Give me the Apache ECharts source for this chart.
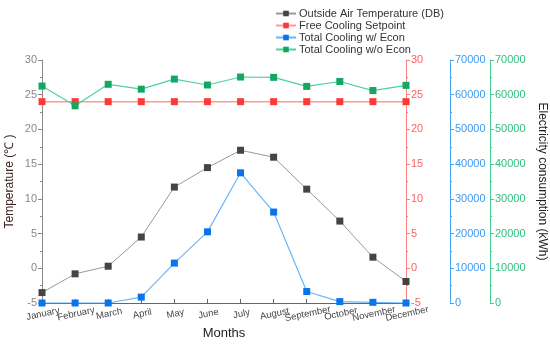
<!DOCTYPE html>
<html><head><meta charset="utf-8">
<script src="https://cdn.jsdelivr.net/npm/echarts@6/dist/echarts.min.js"></script>
<style>html,body{margin:0;padding:0;background:#fff}#c{width:550px;height:348px}</style>
</head><body><div id="c"></div>
<script>
const months = ['January','February','March','April','May','June','July','August','September','October','November','December'];
const outsideTemp = [-3.5,-0.8,0.3,4.5,11.7,14.5,17.0,16.0,11.4,6.8,1.6,-1.9];
const freeCoolingSetpoint = [24,24,24,24,24,24,24,24,24,24,24,24];
const coolingWithEcon = [0,0,0,1700,11500,20500,37500,26200,3300,400,200,0];
const coolingWithoutEcon = [62500,56800,63000,61600,64500,62800,65100,65000,62400,63800,61200,62700];
const tempTicks = {min:-5,max:30,interval:5};
const elecTicks = {min:0,max:70000,interval:10000};

const chart = echarts.init(document.getElementById('c'));
const FONT = 'Arial, "Liberation Sans", sans-serif';
function yAx(o){
  return Object.assign({
    type:'value',
    splitLine:{show:false},
    axisTick:{show:true,length:4},
    minorTick:{show:true,splitNumber:2,length:2}
  },o);
}
chart.setOption({
  animation:false,
  textStyle:{fontFamily:FONT},
  grid:{left:42,right:144,top:60,bottom:45,containLabel:false,outerBoundsMode:'none'},
  legend:{
    orient:'vertical',left:270,top:3,itemWidth:20,itemHeight:7,itemGap:1,
    textStyle:{fontSize:11,color:'#333',fontFamily:FONT,padding:[0,0,0,-2]},
    data:['Outside Air Temperature (DB)','Free Cooling Setpoint','Total Cooling w/ Econ','Total Cooling w/o Econ']
  },
  xAxis:{
    type:'category',data:months,boundaryGap:false,
    name:'Months',nameLocation:'middle',nameGap:24,nameMoveOverlap:false,
    nameTextStyle:{fontSize:13,color:'#222',fontFamily:FONT},
    axisLine:{onZero:false,lineStyle:{color:'#666'}},
    axisTick:{show:true,inside:true,length:4,alignWithLabel:true},
    axisLabel:{rotate:12,align:'center',verticalAlign:'top',fontSize:9.5,color:'#444',margin:6,interval:0}
  },
  yAxis:[
    yAx({position:'left',min:tempTicks.min,max:tempTicks.max,interval:tempTicks.interval,
      name:'Temperature (℃ )',nameLocation:'middle',nameGap:26,nameMoveOverlap:false,
      nameTextStyle:{fontSize:12,color:'#3a2020',fontFamily:FONT},
      axisLine:{show:true,onZero:false,lineStyle:{color:'#8a8a8a'}},
      axisLabel:{fontSize:11,color:'#888',margin:5}}),
    yAx({position:'right',offset:0,min:tempTicks.min,max:tempTicks.max,interval:tempTicks.interval,
      axisLine:{show:true,onZero:false,lineStyle:{color:'#ff8080'}},
      axisLabel:{fontSize:11,color:'#ff6060',margin:5}}),
    yAx({position:'right',offset:44,min:elecTicks.min,max:elecTicks.max,interval:elecTicks.interval,
      axisLine:{show:true,onZero:false,lineStyle:{color:'#45a5f5'}},
      axisLabel:{fontSize:11,color:'#3a9cf0',margin:5,formatter:v=>String(v)}}),
    yAx({position:'right',offset:84,min:elecTicks.min,max:elecTicks.max,interval:elecTicks.interval,
      name:'Electricity consumption (kWh)',nameLocation:'middle',nameGap:36,nameRotate:-90,
      nameTextStyle:{fontSize:12,color:'#222',fontFamily:FONT},
      axisLine:{show:true,onZero:false,lineStyle:{color:'#45cc90'}},
      axisLabel:{fontSize:11,color:'#30c080',margin:5,formatter:v=>String(v)}})
  ],
  series:[
    {name:'Outside Air Temperature (DB)',type:'line',yAxisIndex:0,data:outsideTemp,
     symbol:'rect',symbolSize:7,lineStyle:{color:'#999',width:1},itemStyle:{color:'#444'}},
    {name:'Free Cooling Setpoint',type:'line',yAxisIndex:1,data:freeCoolingSetpoint,
     symbol:'rect',symbolSize:7,lineStyle:{color:'#ff9a9a',width:1.5},itemStyle:{color:'#ff3838'}},
    {name:'Total Cooling w/ Econ',type:'line',yAxisIndex:2,data:coolingWithEcon,
     symbol:'rect',symbolSize:7,lineStyle:{color:'#6ab6f8',width:1.2},itemStyle:{color:'#0a74ea'}},
    {name:'Total Cooling w/o Econ',type:'line',yAxisIndex:3,data:coolingWithoutEcon,
     symbol:'rect',symbolSize:7,lineStyle:{color:'#50d0a0',width:1.2},itemStyle:{color:'#12a862'}}
  ]
});
</script></body></html>
